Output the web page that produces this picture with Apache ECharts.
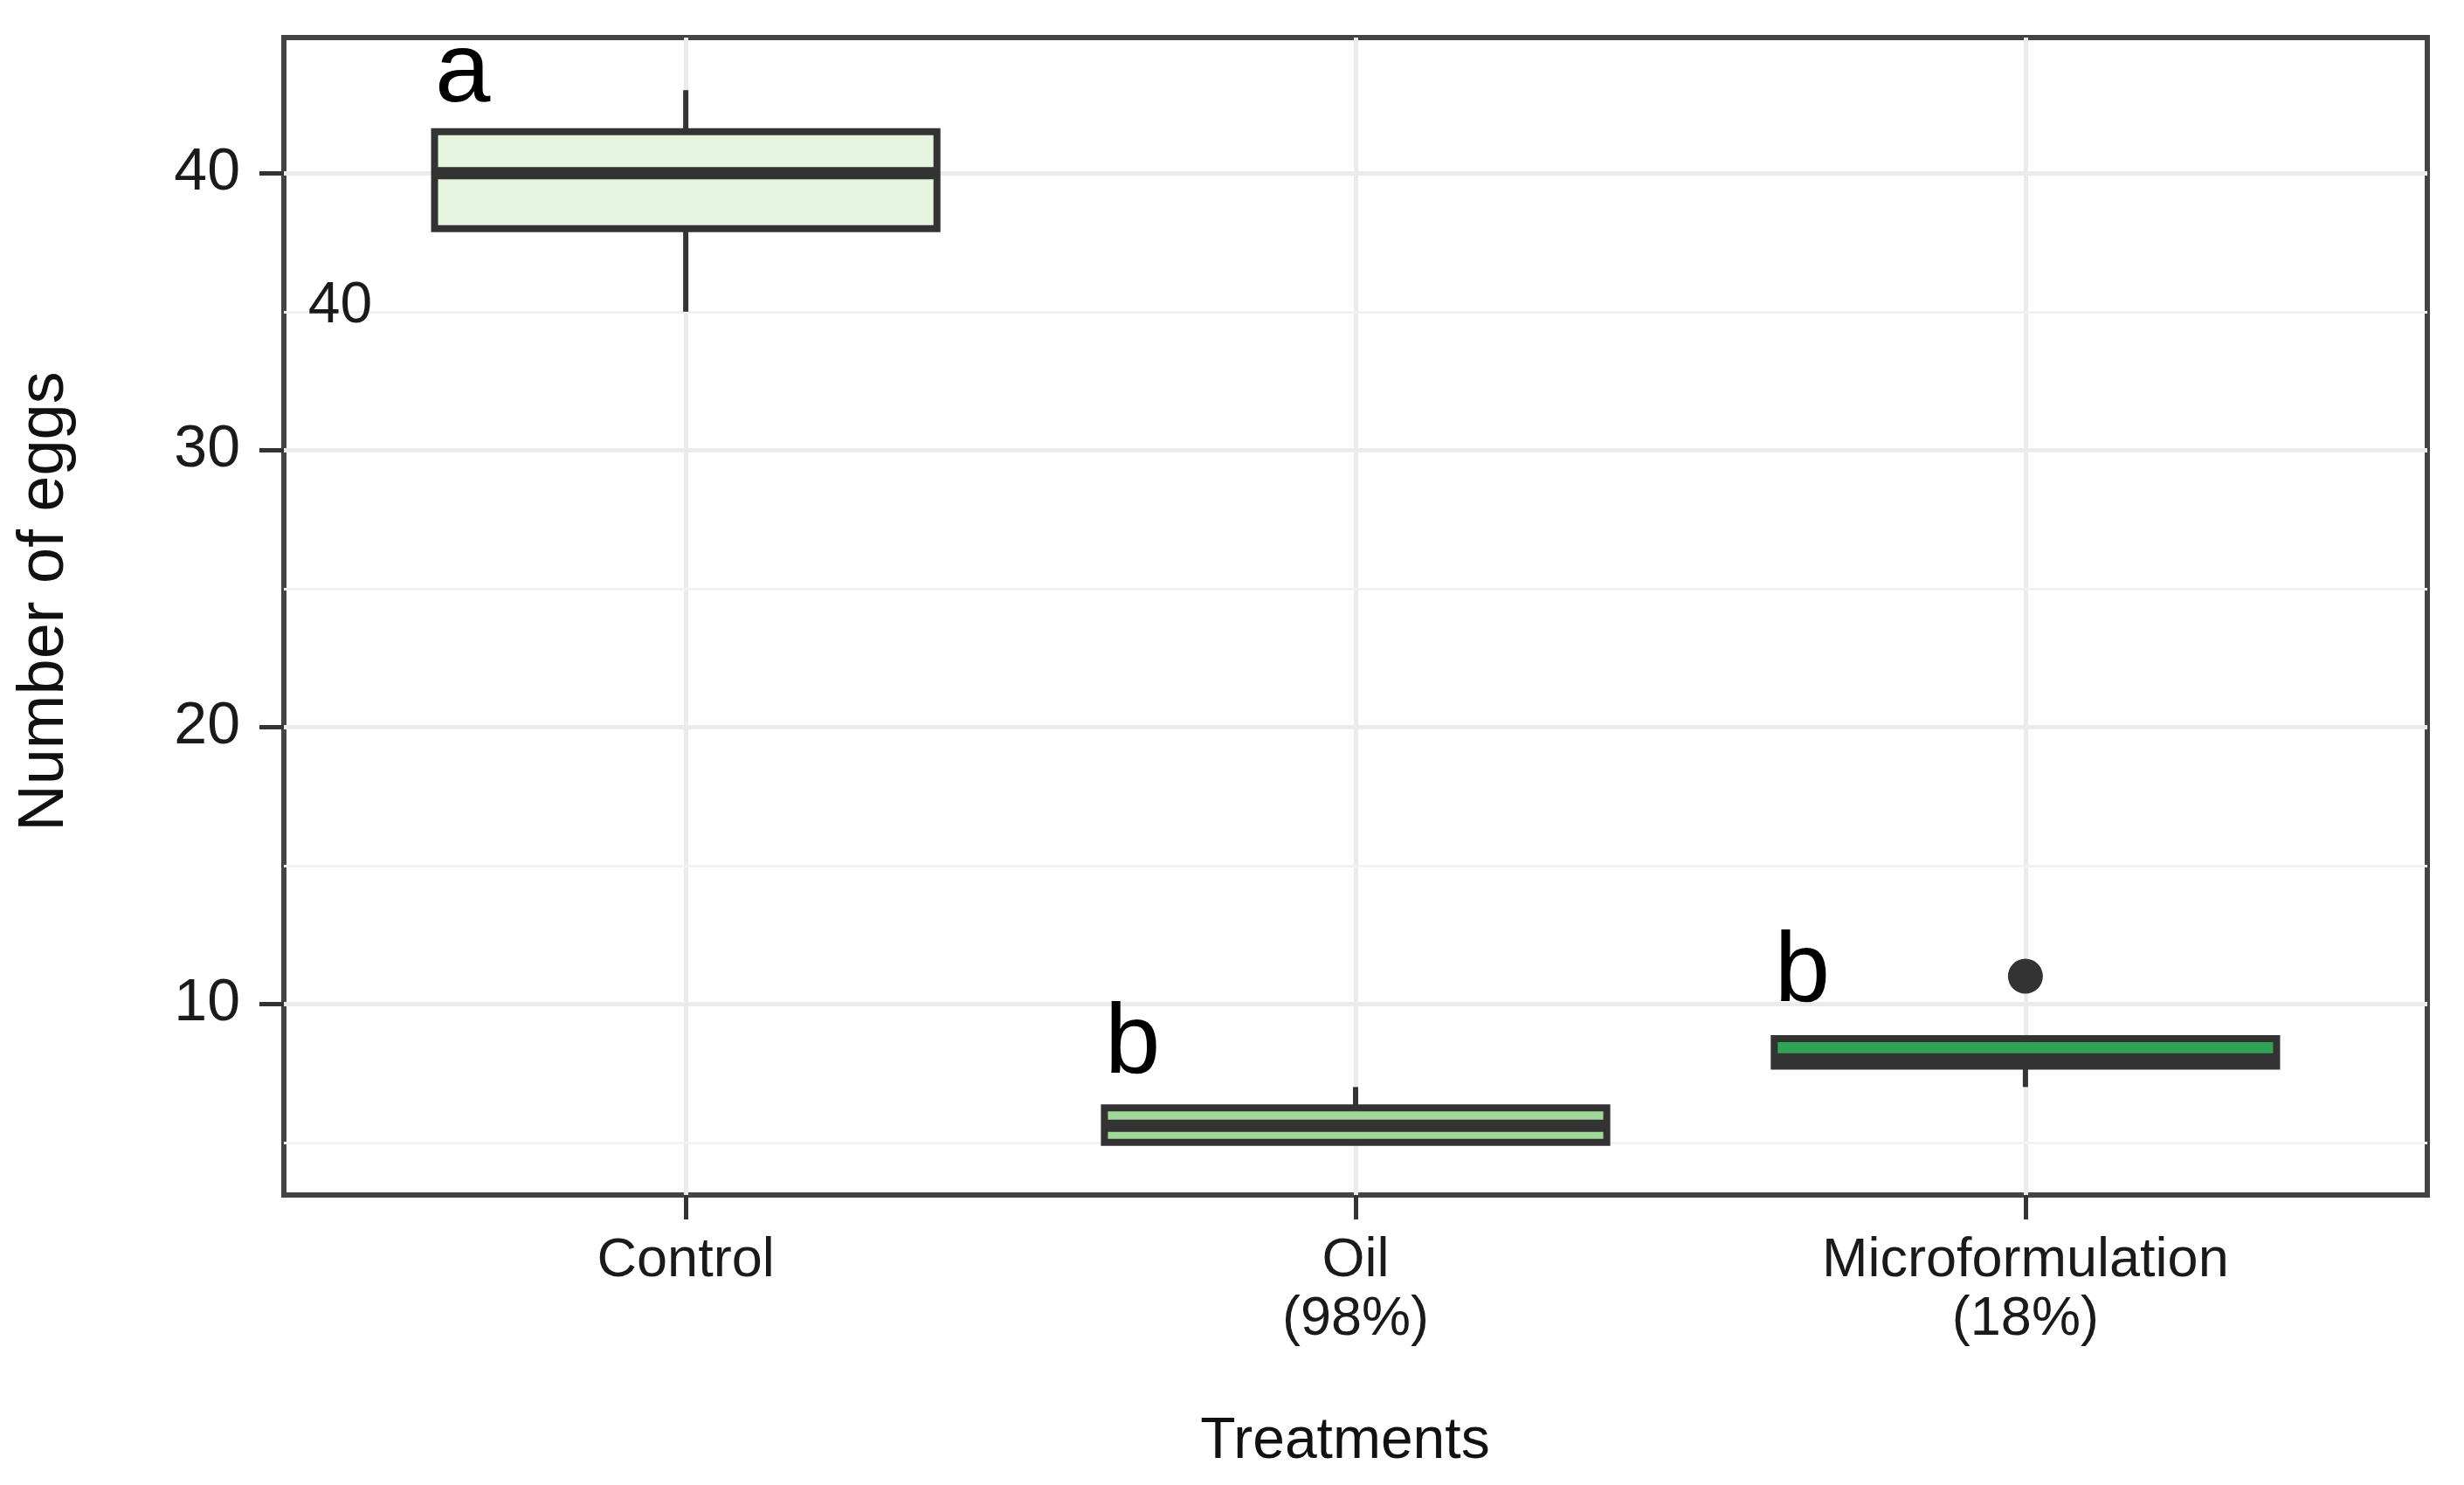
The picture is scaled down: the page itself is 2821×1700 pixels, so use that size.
<!DOCTYPE html>
<html>
<head>
<meta charset="utf-8">
<script src="https://cdn.jsdelivr.net/npm/echarts@6/dist/echarts.min.js"></script>
<style>
html,body{margin:0;padding:0;background:#fff;}
#chart{width:2821px;height:1700px;}
</style>
</head>
<body>
<div id="chart"></div>
<script>
// ---- data ----
const categories = ['Control', 'Oil\n(98%)', 'Microformulation\n(18%)'];
const categoryX = [1, 2, 3];
// [min, Q1, median, Q3, max]
const boxStats = [
  [35, 38, 40, 41.5, 43],
  [5, 5, 5.6, 6.25, 7],
  [7, 7.75, 8.0, 8.75, 8.75]
];
const outliers = [[3, 11]];
const groupLetters = ['a', 'b', 'b'];
const letterX = [0.667, 1.667, 2.667];
const letterY = [43.6, 8.5, 11.1];
const strayLabel = [[0.484, 35.2, '40']];
const yMajorTicks = [10, 20, 30, 40];
const yMinorTicks = [5, 15, 25, 35];

const fills = ['#e5f5e0', '#a1d99b', '#31a354'];
const FONT = '"Liberation Sans", Arial, sans-serif';

const boxData = boxStats.map((s, i) => [categoryX[i]].concat(s));
const letterData = groupLetters.map((t, i) => [letterX[i], letterY[i], t]);

const chart = echarts.init(document.getElementById('chart'));
chart.setOption({
  animation: false,
  backgroundColor: '#ffffff',
  grid: {
    left: 325, top: 43, width: 2454, height: 1325,
    show: true, borderColor: '#444444', borderWidth: 6, backgroundColor: 'transparent'
  },
  xAxis: {
    type: 'value', min: 0.4, max: 3.6,
    name: 'Treatments', nameLocation: 'middle', nameGap: 250,
    nameTextStyle: { fontFamily: FONT, fontSize: 66, color: '#111', padding: [0, 24, 0, 0] },
    axisLine: { show: false },
    axisTick: { show: true, length: 28, lineStyle: { color: '#333', width: 5 }, customValues: categoryX },
    axisLabel: {
      show: true, margin: 42, fontFamily: FONT, fontSize: 63, lineHeight: 67, color: '#1a1a1a',
      customValues: categoryX,
      formatter: v => categories[Math.round(v) - 1] || ''
    },
    splitLine: { show: true, lineStyle: { color: '#ebebeb', width: 5 } }
  },
  yAxis: {
    type: 'value', min: 3.1, max: 44.9,
    name: 'Number of eggs', nameLocation: 'middle', nameGap: 236,
    nameTextStyle: { fontFamily: FONT, fontSize: 74, color: '#111', padding: [0, 0, 0, 34] },
    axisLine: { show: false },
    axisTick: { show: true, length: 28, lineStyle: { color: '#333', width: 5 }, customValues: yMajorTicks },
    axisLabel: { show: true, margin: 50, fontFamily: FONT, fontSize: 68, color: '#1a1a1a', customValues: yMajorTicks },
    splitLine: { show: true, lineStyle: { color: '#ebebeb', width: 5 } }
  },
  series: [
    {
      type: 'custom',
      z: 3,
      data: boxData,
      renderItem: function (params, api) {
        const x = api.value(0);
        const mn = api.value(1), q1 = api.value(2), md = api.value(3), q3 = api.value(4), mx = api.value(5);
        const hw = 0.375;
        const cTop = api.coord([x, mx]);
        const cQ3 = api.coord([x, q3]);
        const cQ1 = api.coord([x, q1]);
        const cBot = api.coord([x, mn]);
        const left = api.coord([x - hw, q3]);
        const right = api.coord([x + hw, q1]);
        const medL = api.coord([x - hw, md]);
        const medR = api.coord([x + hw, md]);
        const stroke = '#333333';
        return {
          type: 'group',
          children: [
            { type: 'line', shape: { x1: cTop[0], y1: cTop[1], x2: cQ3[0], y2: cQ3[1] }, style: { stroke: stroke, lineWidth: 6 } },
            { type: 'line', shape: { x1: cQ1[0], y1: cQ1[1], x2: cBot[0], y2: cBot[1] }, style: { stroke: stroke, lineWidth: 6 } },
            { type: 'rect', shape: { x: left[0], y: left[1], width: right[0] - left[0], height: right[1] - left[1] },
              style: { fill: fills[params.dataIndex], stroke: stroke, lineWidth: 8 } },
            { type: 'line', shape: { x1: medL[0] + 3, y1: medL[1], x2: medR[0] - 3, y2: medR[1] }, style: { stroke: stroke, lineWidth: 14 } }
          ]
        };
      }
    },
    {
      type: 'scatter',
      z: 4,
      data: outliers,
      symbol: 'circle',
      symbolSize: 40,
      itemStyle: { color: '#333333', opacity: 1 },
      markLine: {
        silent: true, z: 1, symbol: 'none', label: { show: false },
        lineStyle: { color: '#f2f2f2', width: 3, type: 'solid' },
        data: yMinorTicks.map(v => ({ yAxis: v }))
      }
    },
    {
      type: 'scatter',
      z: 5,
      data: letterData,
      symbolSize: 0,
      itemStyle: { opacity: 1 },
      label: {
        show: true, position: 'inside', formatter: p => p.value[2],
        fontFamily: FONT, fontSize: 114, color: '#000', opacity: 1
      }
    },
    {
      type: 'scatter',
      z: 5,
      data: strayLabel,
      symbolSize: 0,
      itemStyle: { opacity: 1 },
      label: {
        show: true, position: 'inside', formatter: p => p.value[2],
        fontFamily: FONT, fontSize: 66, color: '#1a1a1a', opacity: 1
      }
    }
  ]
});
</script>
</body>
</html>
